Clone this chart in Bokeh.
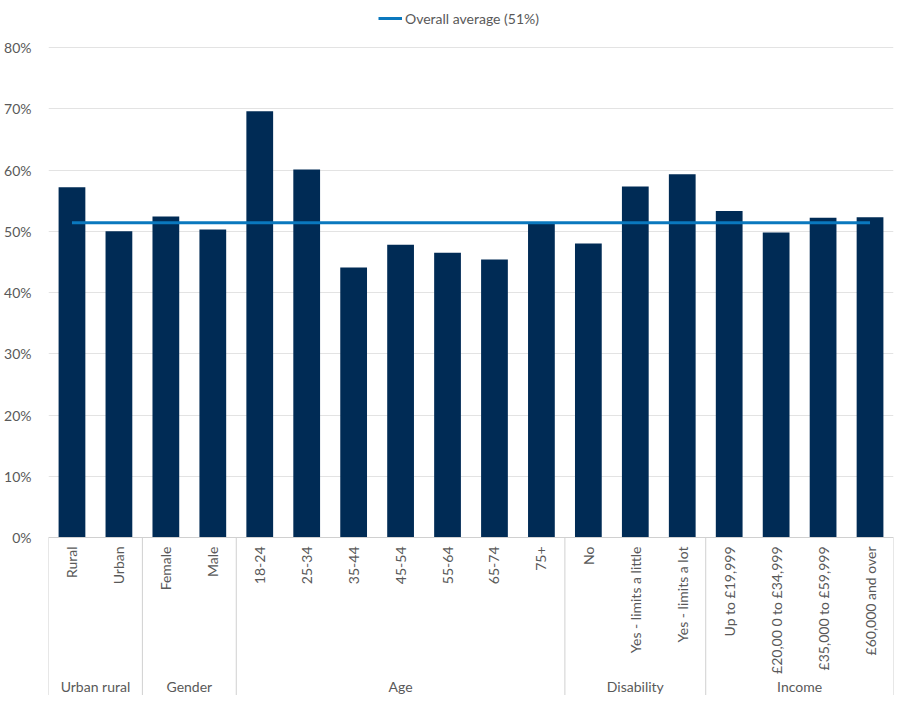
import math
from bokeh.plotting import figure
from bokeh.models import FixedTicker, PrintfTickFormatter, Legend, LegendItem, Range1d
from bokeh.core.properties import value
from bokeh.embed import file_html
from bokeh.resources import INLINE

# ---- data ----
groups = ["Urban rural", "Gender", "Age", "Disability", "Income"]
group_counts = [2, 2, 7, 3, 4]
categories = ["Rural", "Urban", "Female", "Male", "18-24", "25-34", "35-44", "45-54",
              "55-64", "65-74", "75+", "No", "Yes - limits a little", "Yes - limits a lot",
              "Up to £19,999", "£20,00 0 to £34,999", "£35,000 to £59,999", "£60,000 and over"]
values = [57.2, 50.0, 52.4, 50.3, 69.6, 60.1, 44.1, 47.8, 46.5, 45.4, 51.3,
          48.0, 57.3, 59.3, 53.3, 49.8, 52.2, 52.3]
overall_average = 51.4
average_label = "Overall average (51%)"
y_ticks = [0, 10, 20, 30, 40, 50, 60, 70, 80]

# ---- layout constants ----
FONT = "Lato"
TXT = "#595959"
BAR = "#002B55"
LINE = "#0A78BE"
GRID = "#E3E3E3"

n = len(categories)
px_per_unit = 6.125
top_border = 8
fig_h = 695
frame_h = fig_h - top_border
zero_from_top = 537 - top_border
y_top = zero_from_top / px_per_unit
y_bot = -(frame_h - zero_from_top) / px_per_unit

p = figure(width=900, height=fig_h, output_backend="svg", toolbar_location=None,
           x_range=Range1d(0, n), y_range=Range1d(y_bot, y_top),
           x_axis_location=None, min_border_left=48, min_border_right=7,
           min_border_top=top_border, min_border_bottom=0)
p.outline_line_color = None
p.background_fill_color = "white"
p.border_fill_color = "white"

# y axis
p.yaxis.ticker = FixedTicker(ticks=y_ticks)
p.yaxis.formatter = PrintfTickFormatter(format="%d%%")
p.yaxis.axis_line_color = None
p.yaxis.major_tick_line_color = None
p.yaxis.minor_tick_line_color = None
p.yaxis.major_label_standoff = 11
p.yaxis.major_label_text_font = FONT
p.yaxis.major_label_text_font_size = "14px"
p.yaxis.major_label_text_color = TXT
p.ygrid.grid_line_color = GRID
p.ygrid.grid_line_width = 1
p.xgrid.visible = False

xs = [i + 0.5 for i in range(n)]

# bars
p.vbar(x=xs, top=values, bottom=0, width=0.57, fill_color=BAR, line_color=None)

# x axis base line
p.segment(x0=[0], y0=[0], x1=[n], y1=[0], line_color="#D0D0D0", line_width=1)

# group separators
bounds = [0]
for c in group_counts:
    bounds.append(bounds[-1] + c)
p.segment(x0=bounds, y0=[0] * len(bounds), x1=bounds, y1=[y_bot] * len(bounds),
          line_color="#D0D0D0", line_width=1)

# category labels
label_y = -9 / px_per_unit
p.text(x=xs, y=[label_y] * n, text=categories, angle=math.pi / 2,
       text_align="right", text_baseline="middle", text_font=value(FONT),
       text_font_size="14px", text_color=TXT)

# group labels
gx = [(bounds[i] + bounds[i + 1]) / 2 for i in range(len(groups))]
gy = -(686 - 537) / px_per_unit
p.text(x=gx, y=[gy] * len(groups), text=groups, text_align="center",
       text_baseline="middle", text_font=value(FONT), text_font_size="14px",
       text_color=TXT)

# average line
avg = p.line(x=[xs[0], xs[-1]], y=[overall_average, overall_average],
             line_color=LINE, line_width=3)

legend = Legend(items=[LegendItem(label=average_label, renderers=[avg])],
                location=(330, frame_h - 20), orientation="horizontal")
legend.border_line_color = None
legend.background_fill_alpha = 0
legend.margin = 0
legend.padding = 0
legend.glyph_width = 24
legend.label_standoff = 3
legend.label_text_font = FONT
legend.label_text_font_size = "14px"
legend.label_text_color = TXT
p.add_layout(legend)

open("out.html", "w").write(file_html(p, INLINE))
